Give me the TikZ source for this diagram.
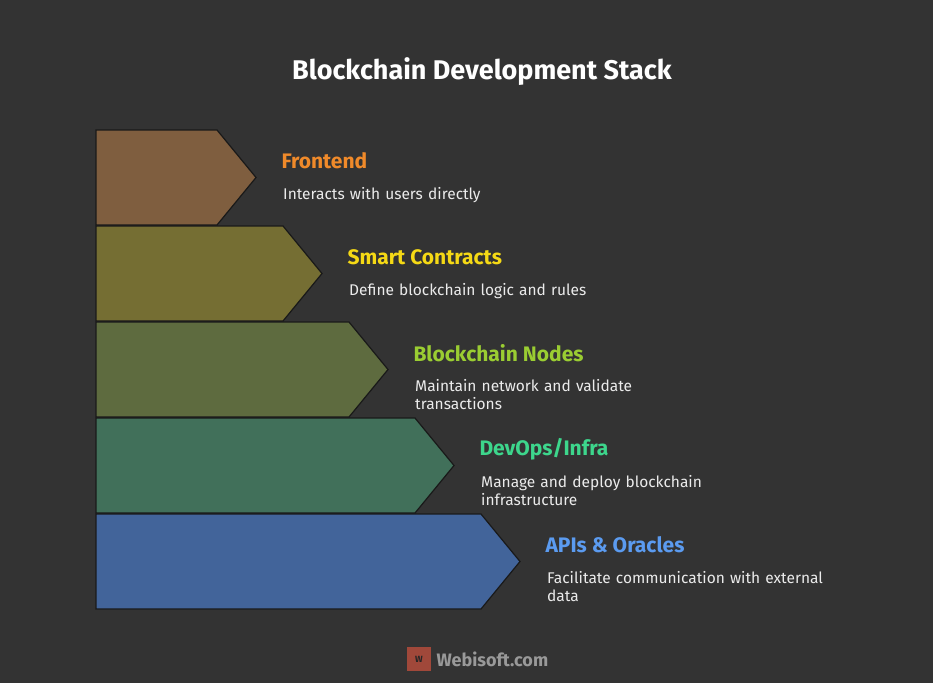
\documentclass[tikz,border=0pt]{standalone}
\usepackage{fontspec}
\setmainfont{Fira Sans}
\begin{document}
\begin{tikzpicture}[x=1pt,y=-1pt,
  band/.style={draw=black!80!gray,line width=1.2pt},
  ttl/.style={anchor=west,font=\bfseries\fontsize{21}{24}\selectfont},
  dsc/.style={anchor=north west,text=white!92!black,font=\fontsize{15.5}{18}\selectfont,align=left,text width=320pt,inner sep=0pt}]
\fill[fill={rgb,255:red,51;green,51;blue,51}] (0,0) rectangle (933,683);
\useasboundingbox (0,0) rectangle (933,683);
\node[text=white,font=\bfseries\fontsize{27}{30}\selectfont] (title) at (482,72) {Blockchain Development Stack};
\definecolor{f1}{RGB}{127,94,63}\definecolor{t1}{RGB}{240,138,42}
\definecolor{f2}{RGB}{117,110,51}\definecolor{t2}{RGB}{245,217,21}
\definecolor{f3}{RGB}{94,107,63}\definecolor{t3}{RGB}{154,205,50}
\definecolor{f4}{RGB}{65,112,90}\definecolor{t4}{RGB}{61,214,140}
\definecolor{f5}{RGB}{66,100,154}\definecolor{t5}{RGB}{91,155,240}
\foreach \i/\nm/\ds in {1/Frontend/Interacts with users directly,
  2/Smart Contracts/Define blockchain logic and rules,
  3/Blockchain Nodes/Maintain network and validate\\transactions,
  4/DevOps\slash Infra/Manage and deploy blockchain\\infrastructure,
  5/APIs \& Oracles/Facilitate communication with external\\data}{
  \pgfmathsetmacro{\yt}{130+96*(\i-1)}
  \pgfmathsetmacro{\yb}{\yt+95}
  \pgfmathsetmacro{\ym}{\yt+47.5}
  \pgfmathsetmacro{\xf}{217+66*(\i-1)}
  \pgfmathsetmacro{\xt}{\xf+39}
  \draw[band,fill=f\i] (96,\yt) -- (\xf,\yt) -- (\xt,\ym) -- (\xf,\yb) -- (96,\yb) -- cycle;
  \node[ttl,text=t\i] (h\i) at (\xt+22,\yt+31) {\nm};
  \node[dsc] (d\i) at (\xt+27,\yt+57) {\ds};
}
\fill[fill={rgb,255:red,160;green,72;blue,58}] (407,647) rectangle (431,671);
\node[font=\bfseries\small,text=black!85] (logo) at (419,659) {W};
\node[anchor=west,text=gray!80,font=\bfseries\fontsize{18}{20}\selectfont] (brand) at (433,659) {Webisoft.com};
\end{tikzpicture}
\end{document}
